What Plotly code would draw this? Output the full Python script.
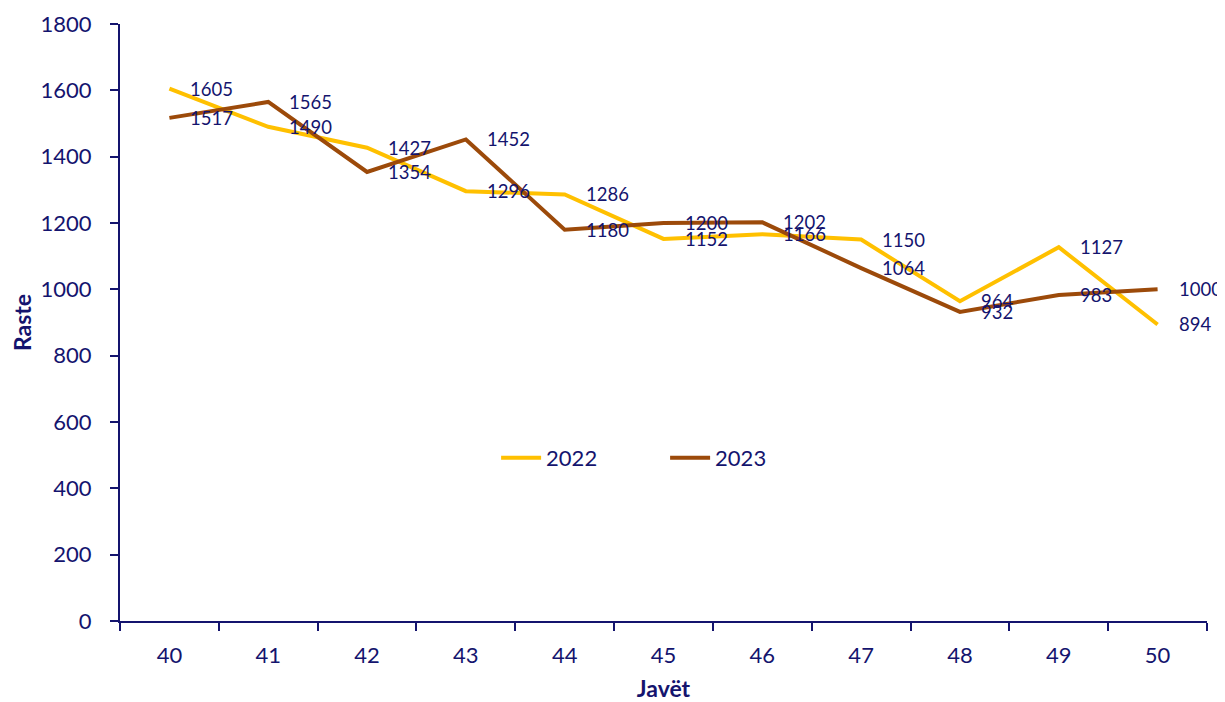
import plotly.graph_objects as go

weeks = ["40", "41", "42", "43", "44", "45", "46", "47", "48", "49", "50"]
cases_2022 = [1605, 1490, 1427, 1296, 1286, 1152, 1166, 1150, 964, 1127, 894]
cases_2023 = [1517, 1565, 1354, 1452, 1180, 1200, 1202, 1064, 932, 983, 1000]
y_ticks = [0, 200, 400, 600, 800, 1000, 1200, 1400, 1600, 1800]

NAVY = "#14146E"
FONT = "Lato"

fig = go.Figure()
fig.add_trace(go.Scatter(x=weeks, y=cases_2022, mode="lines", name="2022",
                         line=dict(color="#FFC000", width=4)))
fig.add_trace(go.Scatter(x=weeks, y=cases_2023, mode="lines", name="2023",
                         line=dict(color="#9C4A0A", width=4)))

for series in (cases_2022, cases_2023):
    for i, v in enumerate(series):
        fig.add_annotation(x=i, y=v, xref="x", yref="y", text=str(v), showarrow=False,
                           xanchor="left", yanchor="middle", xshift=19,
                           font=dict(family=FONT, size=18.5, color=NAVY))

fig.update_layout(
    width=1217, height=694,
    margin=dict(l=112, r=18, t=16, b=81, autoexpand=False),
    paper_bgcolor="white", plot_bgcolor="white",
    font=dict(family=FONT, color=NAVY),
    legend=dict(orientation="h", x=0.346, y=0.273, xanchor="left", yanchor="middle",
                font=dict(family=FONT, size=22, color=NAVY), itemwidth=40,
                entrywidth=114, entrywidthmode="pixels",
                bgcolor="rgba(0,0,0,0)"),
    showlegend=True,
)
fig.update_xaxes(
    type="category", range=[-0.5, 10.5], tickson="boundaries", ticks="outside",
    ticklen=8, tickwidth=2, tickangle=0,
    tickcolor=NAVY, showline=True, linecolor=NAVY, linewidth=2, showgrid=False,
    tickfont=dict(family=FONT, size=22, color=NAVY), ticklabelstandoff=14,
    title=dict(text="<b>Javët</b>", font=dict(family=FONT, size=23, color=NAVY), standoff=18),
    zeroline=False, automargin=False,
)
fig.update_yaxes(
    range=[0, 1800], tickvals=y_ticks, ticks="outside", ticklen=8, tickwidth=2,
    tickcolor=NAVY, showline=True, linecolor=NAVY, linewidth=2, showgrid=False,
    tickfont=dict(family=FONT, size=22, color=NAVY), ticklabelstandoff=14,
    title=dict(text="<b>Raste</b>", font=dict(family=FONT, size=23, color=NAVY), standoff=12),
    zeroline=False, automargin=False,
)

fig.write_html("out.html")
